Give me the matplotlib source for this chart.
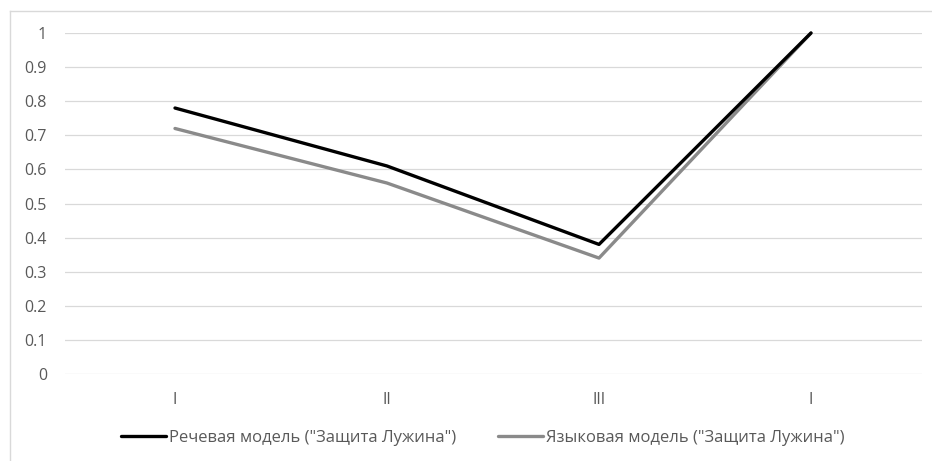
import matplotlib
matplotlib.use("Agg")
import matplotlib.pyplot as plt
from matplotlib.lines import Line2D

categories = ["I", "II", "III", "I"]
speech_model = [0.78, 0.61, 0.38, 1.0]
language_model = [0.72, 0.56, 0.34, 1.0]
series_names = ['Речевая модель ("Защита Лужина")', 'Языковая модель ("Защита Лужина")']
y_ticks = [0, 0.1, 0.2, 0.3, 0.4, 0.5, 0.6, 0.7, 0.8, 0.9, 1]

plt.rcParams['font.family'] = ['Open Sans', 'DejaVu Sans']

W, H = 932, 461
fig = plt.figure(figsize=(W / 100, H / 100), dpi=100)
fig.patch.set_facecolor('white')

left_px, right_px, top_px, bottom_px = 65, 922, 33, 374
ax = fig.add_axes([left_px / W, 1 - bottom_px / H, (right_px - left_px) / W, (bottom_px - top_px) / H])

x = list(range(len(categories)))
ax.plot(x, speech_model, color='#000000', lw=2.4, label=series_names[0], clip_on=False,
        solid_capstyle='round', solid_joinstyle='round', zorder=3)
ax.plot(x, language_model, color='#8a8a8a', lw=2.4, label=series_names[1], clip_on=False,
        solid_capstyle='round', solid_joinstyle='round', zorder=2)

ax.set_ylim(0, 1)
ax.set_xlim((left_px - 175) / 212, (right_px - 175) / 212)
ax.set_yticks(y_ticks)
ax.set_yticklabels([f"{v:g}" for v in y_ticks])
ax.set_xticks(x)
ax.set_xticklabels(categories)
ax.grid(axis='y', color='#d9d9d9', lw=0.9)
ax.set_axisbelow(True)
for s in ax.spines.values():
    s.set_visible(False)
ax.tick_params(axis='both', length=0, colors='#595959', labelsize=11.5)
ax.tick_params(axis='y', pad=13)
ax.tick_params(axis='x', pad=13)

fig.legend(loc='center', bbox_to_anchor=(0.518, 1 - 438 / H), ncol=2, frameon=False,
           fontsize=12, handlelength=2.7, handletextpad=0.18, columnspacing=2.5,
           labelcolor='#595959')

# outer chart frame (left and top edges visible)
fig.add_artist(Line2D([10 / W, 10 / W], [0, 1 - 11 / H], transform=fig.transFigure,
                      color='#d9d9d9', lw=1))
fig.add_artist(Line2D([10 / W, 1], [1 - 11 / H, 1 - 11 / H], transform=fig.transFigure,
                      color='#d9d9d9', lw=1))

fig.savefig("out.png", dpi=100, facecolor='white')
